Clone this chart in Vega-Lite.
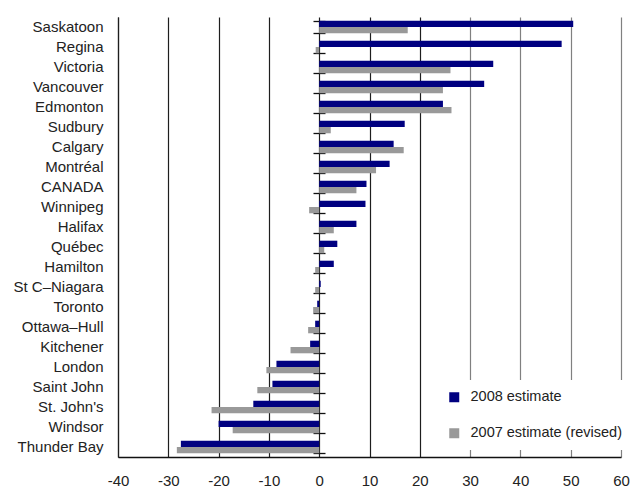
{
  "$schema": "https://vega.github.io/schema/vega-lite/v6.json",
  "width": 503,
  "height": 440,
  "autosize": {"type": "none"},
  "padding": {"left": 118, "top": 17, "right": 9, "bottom": 32},
  "background": "white",
  "config": {"view": {"stroke": null}, "font": "Liberation Sans"},
  "data": {"values": [
    {"city": "Saskatoon", "series": "2008 estimate", "value": 50.5},
    {"city": "Saskatoon", "series": "2007 estimate (revised)", "value": 17.6},
    {"city": "Regina", "series": "2008 estimate", "value": 48.2},
    {"city": "Regina", "series": "2007 estimate (revised)", "value": -0.7},
    {"city": "Victoria", "series": "2008 estimate", "value": 34.6},
    {"city": "Victoria", "series": "2007 estimate (revised)", "value": 26.1},
    {"city": "Vancouver", "series": "2008 estimate", "value": 32.8},
    {"city": "Vancouver", "series": "2007 estimate (revised)", "value": 24.6},
    {"city": "Edmonton", "series": "2008 estimate", "value": 24.6},
    {"city": "Edmonton", "series": "2007 estimate (revised)", "value": 26.3},
    {"city": "Sudbury", "series": "2008 estimate", "value": 17.0},
    {"city": "Sudbury", "series": "2007 estimate (revised)", "value": 2.3},
    {"city": "Calgary", "series": "2008 estimate", "value": 14.8},
    {"city": "Calgary", "series": "2007 estimate (revised)", "value": 16.8},
    {"city": "Montréal", "series": "2008 estimate", "value": 14.0},
    {"city": "Montréal", "series": "2007 estimate (revised)", "value": 11.3},
    {"city": "CANADA", "series": "2008 estimate", "value": 9.4},
    {"city": "CANADA", "series": "2007 estimate (revised)", "value": 7.4},
    {"city": "Winnipeg", "series": "2008 estimate", "value": 9.2},
    {"city": "Winnipeg", "series": "2007 estimate (revised)", "value": -2.0},
    {"city": "Halifax", "series": "2008 estimate", "value": 7.4},
    {"city": "Halifax", "series": "2007 estimate (revised)", "value": 2.9},
    {"city": "Québec", "series": "2008 estimate", "value": 3.6},
    {"city": "Québec", "series": "2007 estimate (revised)", "value": 1.0},
    {"city": "Hamilton", "series": "2008 estimate", "value": 2.9},
    {"city": "Hamilton", "series": "2007 estimate (revised)", "value": -0.8},
    {"city": "St C–Niagara", "series": "2008 estimate", "value": 0.3},
    {"city": "St C–Niagara", "series": "2007 estimate (revised)", "value": -0.8},
    {"city": "Toronto", "series": "2008 estimate", "value": -0.4},
    {"city": "Toronto", "series": "2007 estimate (revised)", "value": -1.2},
    {"city": "Ottawa–Hull", "series": "2008 estimate", "value": -0.8},
    {"city": "Ottawa–Hull", "series": "2007 estimate (revised)", "value": -2.2},
    {"city": "Kitchener", "series": "2008 estimate", "value": -1.8},
    {"city": "Kitchener", "series": "2007 estimate (revised)", "value": -5.7},
    {"city": "London", "series": "2008 estimate", "value": -8.5},
    {"city": "London", "series": "2007 estimate (revised)", "value": -10.5},
    {"city": "Saint John", "series": "2008 estimate", "value": -9.3},
    {"city": "Saint John", "series": "2007 estimate (revised)", "value": -12.3},
    {"city": "St. John's", "series": "2008 estimate", "value": -13.1},
    {"city": "St. John's", "series": "2007 estimate (revised)", "value": -21.4},
    {"city": "Windsor", "series": "2008 estimate", "value": -20.0},
    {"city": "Windsor", "series": "2007 estimate (revised)", "value": -17.2},
    {"city": "Thunder Bay", "series": "2008 estimate", "value": -27.5},
    {"city": "Thunder Bay", "series": "2007 estimate (revised)", "value": -28.3}
  ]},
  "encoding": {
    "x": {
      "field": "value", "type": "quantitative",
      "scale": {"domain": [-40, 60], "nice": false, "zero": false},
      "axis": {
        "title": null,
        "values": [-40, -30, -20, -10, 0, 10, 20, 30, 40, 50, 60],
        "grid": true,
        "gridColor": {"condition": {"test": "datum.value >= 30", "value": "#808080"}, "value": "#1e1e1e"},
        "gridWidth": 1.2,
        "domain": true, "domainColor": "#111111", "domainWidth": 1.5,
        "ticks": false, "tickSize": 0,
        "labelPadding": 16, "labelFontSize": 15, "labelColor": "#222222",
        "labelFlush": false,
        "labelExpr": "replace(datum.label, '−', '-')"
      }
    }
  },
  "layer": [
    {
      "mark": {"type": "bar"},
      "encoding": {
        "y": {
          "field": "city", "type": "nominal",
          "sort": ["Saskatoon", "Regina", "Victoria", "Vancouver", "Edmonton", "Sudbury", "Calgary", "Montréal", "CANADA", "Winnipeg", "Halifax", "Québec", "Hamilton", "St C–Niagara", "Toronto", "Ottawa–Hull", "Kitchener", "London", "Saint John", "St. John's", "Windsor", "Thunder Bay"],
          "scale": {"paddingInner": 0.37, "paddingOuter": 0.185},
          "axis": {
            "title": null, "orient": "left", "ticks": false, "domain": true, "domainColor": "#1e1e1e", "domainWidth": 1.2,
            "labelPadding": 15, "labelFontSize": 15, "labelColor": "#222222", "grid": false, "labelLimit": 200
          }
        },
        "yOffset": {"field": "series", "type": "nominal", "sort": ["2008 estimate", "2007 estimate (revised)"]},
        "color": {
          "field": "series", "type": "nominal",
          "sort": ["2008 estimate", "2007 estimate (revised)"],
          "scale": {"domain": ["2008 estimate", "2007 estimate (revised)"], "range": ["#000080", "#999999"]},
          "legend": {
            "orient": "none", "legendX": 319, "legendY": 363,
            "title": null, "symbolType": "square", "symbolSize": 100, "symbolStrokeWidth": 0,
            "labelFontSize": 14.5, "labelColor": "#222222", "rowPadding": 21, "padding": 10,
            "fillColor": "white", "labelOffset": 9, "labelLimit": 300
          }
        }
      }
    },
    {
      "mark": {"type": "bar", "opacity": 0},
      "encoding": {
        "y": {
          "field": "city", "type": "nominal",
          "sort": ["Saskatoon", "Regina", "Victoria", "Vancouver", "Edmonton", "Sudbury", "Calgary", "Montréal", "CANADA", "Winnipeg", "Halifax", "Québec", "Hamilton", "St C–Niagara", "Toronto", "Ottawa–Hull", "Kitchener", "London", "Saint John", "St. John's", "Windsor", "Thunder Bay"],
          "scale": {"paddingInner": 0.37, "paddingOuter": 0.185},
          "axis": {
            "title": null, "orient": "right", "offset": -308, "labels": false, "domain": false,
            "ticks": true, "tickSize": 12, "tickBand": "extent", "tickColor": "#111111", "tickWidth": 1.3, "grid": false
          }
        }
      }
    }
  ],
  "resolve": {"axis": {"y": "independent"}}
}
